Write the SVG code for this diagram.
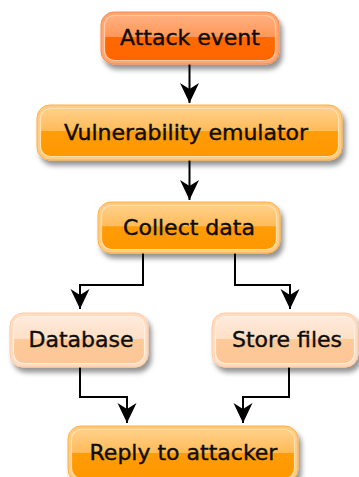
<svg xmlns="http://www.w3.org/2000/svg" width="359" height="477" viewBox="0 0 359 477">
  <defs>
    <filter id="shadow" x="-10%" y="-20%" width="130%" height="170%">
      <feDropShadow dx="3" dy="5" stdDeviation="2.5" flood-color="#000" flood-opacity="0.42"/>
    </filter>
    <!-- glossy fills: light upper half, saturated lower half -->
    <linearGradient id="gRed" x1="0" y1="0" x2="0" y2="1">
      <stop offset="0" stop-color="#ffb080"/>
      <stop offset="0.47" stop-color="#ff9758"/>
      <stop offset="0.48" stop-color="#ff6a00"/>
      <stop offset="1" stop-color="#ff6600"/>
    </linearGradient>
    <linearGradient id="gOrange" x1="0" y1="0" x2="0" y2="1">
      <stop offset="0" stop-color="#ffd08a"/>
      <stop offset="0.47" stop-color="#ffbb58"/>
      <stop offset="0.48" stop-color="#ff9c08"/>
      <stop offset="1" stop-color="#ff9800"/>
    </linearGradient>
    <linearGradient id="gPeach" x1="0" y1="0" x2="0" y2="1">
      <stop offset="0" stop-color="#ffeadc"/>
      <stop offset="0.47" stop-color="#fde0c6"/>
      <stop offset="0.48" stop-color="#fdca9a"/>
      <stop offset="1" stop-color="#fdc696"/>
    </linearGradient>
    <!-- barbed arrowhead pointing along +x, tip at (20,10) -->
    <marker id="arrow" markerUnits="userSpaceOnUse" markerWidth="21" markerHeight="21" refX="20" refY="10" orient="auto">
      <path d="M20,10 L0,0.5 L6,10 L0,19.5 Z" fill="#000"/>
    </marker>
    <style>
      .label { font-family: "DejaVu Sans", Verdana, sans-serif; font-size: 22px; fill: #0d0d0d; text-anchor: middle; stroke: #0d0d0d; stroke-width: 0.4; }
      .red .ring { fill: #ffa673; stroke: #ff8a4a; stroke-width: 1; }
      .red .body { fill: url(#gRed); stroke: #ffcaa6; stroke-width: 1.2; }
      .orange .ring { fill: #ffcc85; stroke: #ffb040; stroke-width: 1; }
      .orange .body { fill: url(#gOrange); stroke: #ffe0ae; stroke-width: 1.2; }
      .peach .ring { fill: #ffdcc0; stroke: #ffcca4; stroke-width: 1; }
      .peach .body { fill: url(#gPeach); stroke: #fff0e4; stroke-width: 1.2; }
      .edge { fill: none; stroke: #000; stroke-width: 2; marker-end: url(#arrow); }
    </style>
  </defs>

  <g id="connectors">
    <path class="edge" d="M189.5,64 V103"/>
    <path class="edge" d="M189.5,160 V200"/>
    <path class="edge" d="M143,253 V285 H80 V309"/>
    <path class="edge" d="M235,253 V285 H290 V309"/>
    <path class="edge" d="M80,367 V397 H127 V423"/>
    <path class="edge" d="M289,367 V397 H243 V423"/>
  </g>

  <g id="attack-event" class="red">
    <rect class="ring" x="101" y="12" width="178" height="52" rx="13" filter="url(#shadow)"/>
    <rect class="body" x="104.5" y="15.5" width="171" height="45" rx="10"/>
    <text class="label" x="190" y="45">Attack event</text>
  </g>

  <g id="vulnerability-emulator" class="orange">
    <rect class="ring" x="37" y="105" width="305" height="55" rx="13" filter="url(#shadow)"/>
    <rect class="body" x="40.5" y="108.5" width="298" height="48" rx="10"/>
    <text class="label" x="186" y="140">Vulnerability emulator</text>
  </g>

  <g id="collect-data" class="orange">
    <rect class="ring" x="98" y="202" width="182" height="51" rx="13" filter="url(#shadow)"/>
    <rect class="body" x="101.5" y="205.5" width="175" height="44" rx="10"/>
    <text class="label" x="189" y="235">Collect data</text>
  </g>

  <g id="database" class="peach">
    <rect class="ring" x="10" y="313" width="138" height="54" rx="13" filter="url(#shadow)"/>
    <rect class="body" x="13.5" y="316.5" width="131" height="47" rx="10"/>
    <text class="label" x="81" y="347">Database</text>
  </g>

  <g id="store-files" class="peach">
    <rect class="ring" x="212" y="313" width="146" height="54" rx="13" filter="url(#shadow)"/>
    <rect class="body" x="215.5" y="316.5" width="139" height="47" rx="10"/>
    <text class="label" x="287" y="347">Store files</text>
  </g>

  <g id="reply-to-attacker" class="orange">
    <rect class="ring" x="68" y="426" width="230" height="56" rx="13" filter="url(#shadow)"/>
    <rect class="body" x="71.5" y="429.5" width="223" height="49" rx="10"/>
    <text class="label" x="183.5" y="460">Reply to attacker</text>
  </g>
</svg>
